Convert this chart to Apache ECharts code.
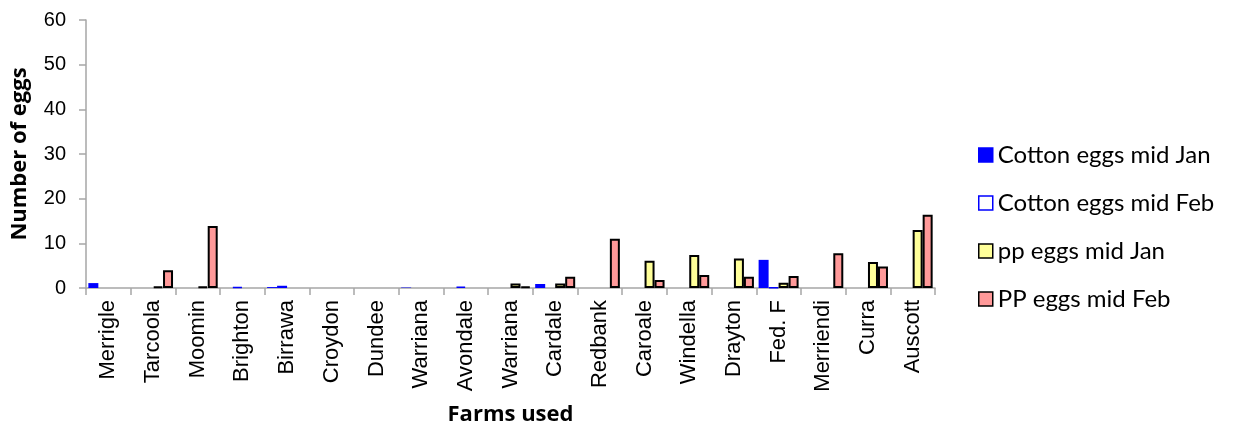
<!DOCTYPE html>
<html>
<head>
<meta charset="utf-8">
<script src="https://cdn.jsdelivr.net/npm/echarts@6/dist/echarts.min.js"></script>
<style>html,body{margin:0;padding:0;background:#fff}#c{width:1235px;height:429px}</style>
</head>
<body>
<div id="c"></div>
<script>
var farms = ["Merrigle","Tarcoola","Moomin","Brighton","Birrawa","Croydon","Dundee","Warriana","Avondale","Warriana","Cardale","Redbank","Caroale","Windella","Drayton","Fed. F","Merriendi","Curra","Auscott"];
var cottonJan = [1.1, null, null, null, 0.2, null, null, 0.1, null, null, 0.9, null, null, null, null, 6.3, null, null, null];
var cottonFeb = [null, null, null, 0.2, 0.5, null, null, null, 0.3, null, null, null, null, null, null, 0.1, null, null, null];
var ppJan = [null, 0.3, 0.3, null, null, null, null, null, null, 1.0, 1.0, null, 6.1, 7.4, 6.6, 1.2, null, 5.8, 13.0];
var ppFeb = [null, 4.0, 13.9, null, null, null, null, null, null, 0.3, 2.5, 11.0, 1.8, 2.9, 2.5, 2.7, 7.8, 4.8, 16.4];
var yTicks = [0, 10, 20, 30, 40, 50, 60];
var seriesNames = ["Cotton eggs mid Jan", "Cotton eggs mid Feb", "pp eggs mid Jan", "PP eggs mid Feb"];

var styles = [
  {color: "#0000FF", borderColor: "#0000FF", borderWidth: 0},
  {color: "#FFFFFF", borderColor: "#0000FF", borderWidth: 1.5},
  {color: "#FFFF99", borderColor: "#000000", borderWidth: 2},
  {color: "#FF9999", borderColor: "#000000", borderWidth: 2}
];
var datas = [cottonJan, cottonFeb, ppJan, ppFeb];

var chart = echarts.init(document.getElementById("c"), null, {renderer: "canvas"});
chart.setOption({
  animation: false,
  backgroundColor: "#ffffff",
  grid: {left: 86, right: 300, top: 20, bottom: 141, containLabel: false, outerBoundsMode: "none"},
  legend: {
    orient: "vertical",
    left: 973,
    top: 138,
    itemWidth: 14,
    itemHeight: 14,
    itemGap: 24,
    textStyle: {fontFamily: "Lato", fontSize: 24, color: "#000"},
    data: seriesNames.map(function (n, i) {
      return {name: n, icon: "rect", itemStyle: {color: styles[i].color, borderColor: styles[i].borderColor, borderWidth: 1.5}};
    })
  },
  xAxis: {
    type: "category",
    data: farms,
    name: "Farms used",
    nameLocation: "middle",
    nameGap: 116,
    nameTextStyle: {fontFamily: "Open Sans", fontWeight: "bold", fontSize: 22, color: "#000"},
    axisLine: {lineStyle: {color: "#a6a6a6", width: 1.5}},
    axisTick: {show: true, alignWithLabel: false, length: 7, lineStyle: {color: "#a6a6a6", width: 1.5}},
    axisLabel: {rotate: 90, interval: 0, margin: 12, fontFamily: "Liberation Sans", fontSize: 22, color: "#000"}
  },
  yAxis: {
    type: "value",
    min: yTicks[0],
    max: yTicks[yTicks.length - 1],
    interval: yTicks[1] - yTicks[0],
    name: "Number of eggs",
    nameLocation: "middle",
    nameGap: 55,
    nameTextStyle: {fontFamily: "Open Sans", fontWeight: "bold", fontSize: 22, color: "#000"},
    axisLine: {show: true, lineStyle: {color: "#a6a6a6", width: 1.5}},
    axisTick: {show: true, length: 7, lineStyle: {color: "#a6a6a6", width: 1.5}},
    splitLine: {show: false},
    axisLabel: {margin: 20, fontFamily: "Liberation Sans", fontSize: 20, color: "#000"}
  },
  series: seriesNames.map(function (n, i) {
    return {
      name: n,
      type: "bar",
      data: datas[i],
      barGap: "0%",
      barCategoryGap: "10.5%",
      itemStyle: styles[i]
    };
  })
});
</script>
</body>
</html>
